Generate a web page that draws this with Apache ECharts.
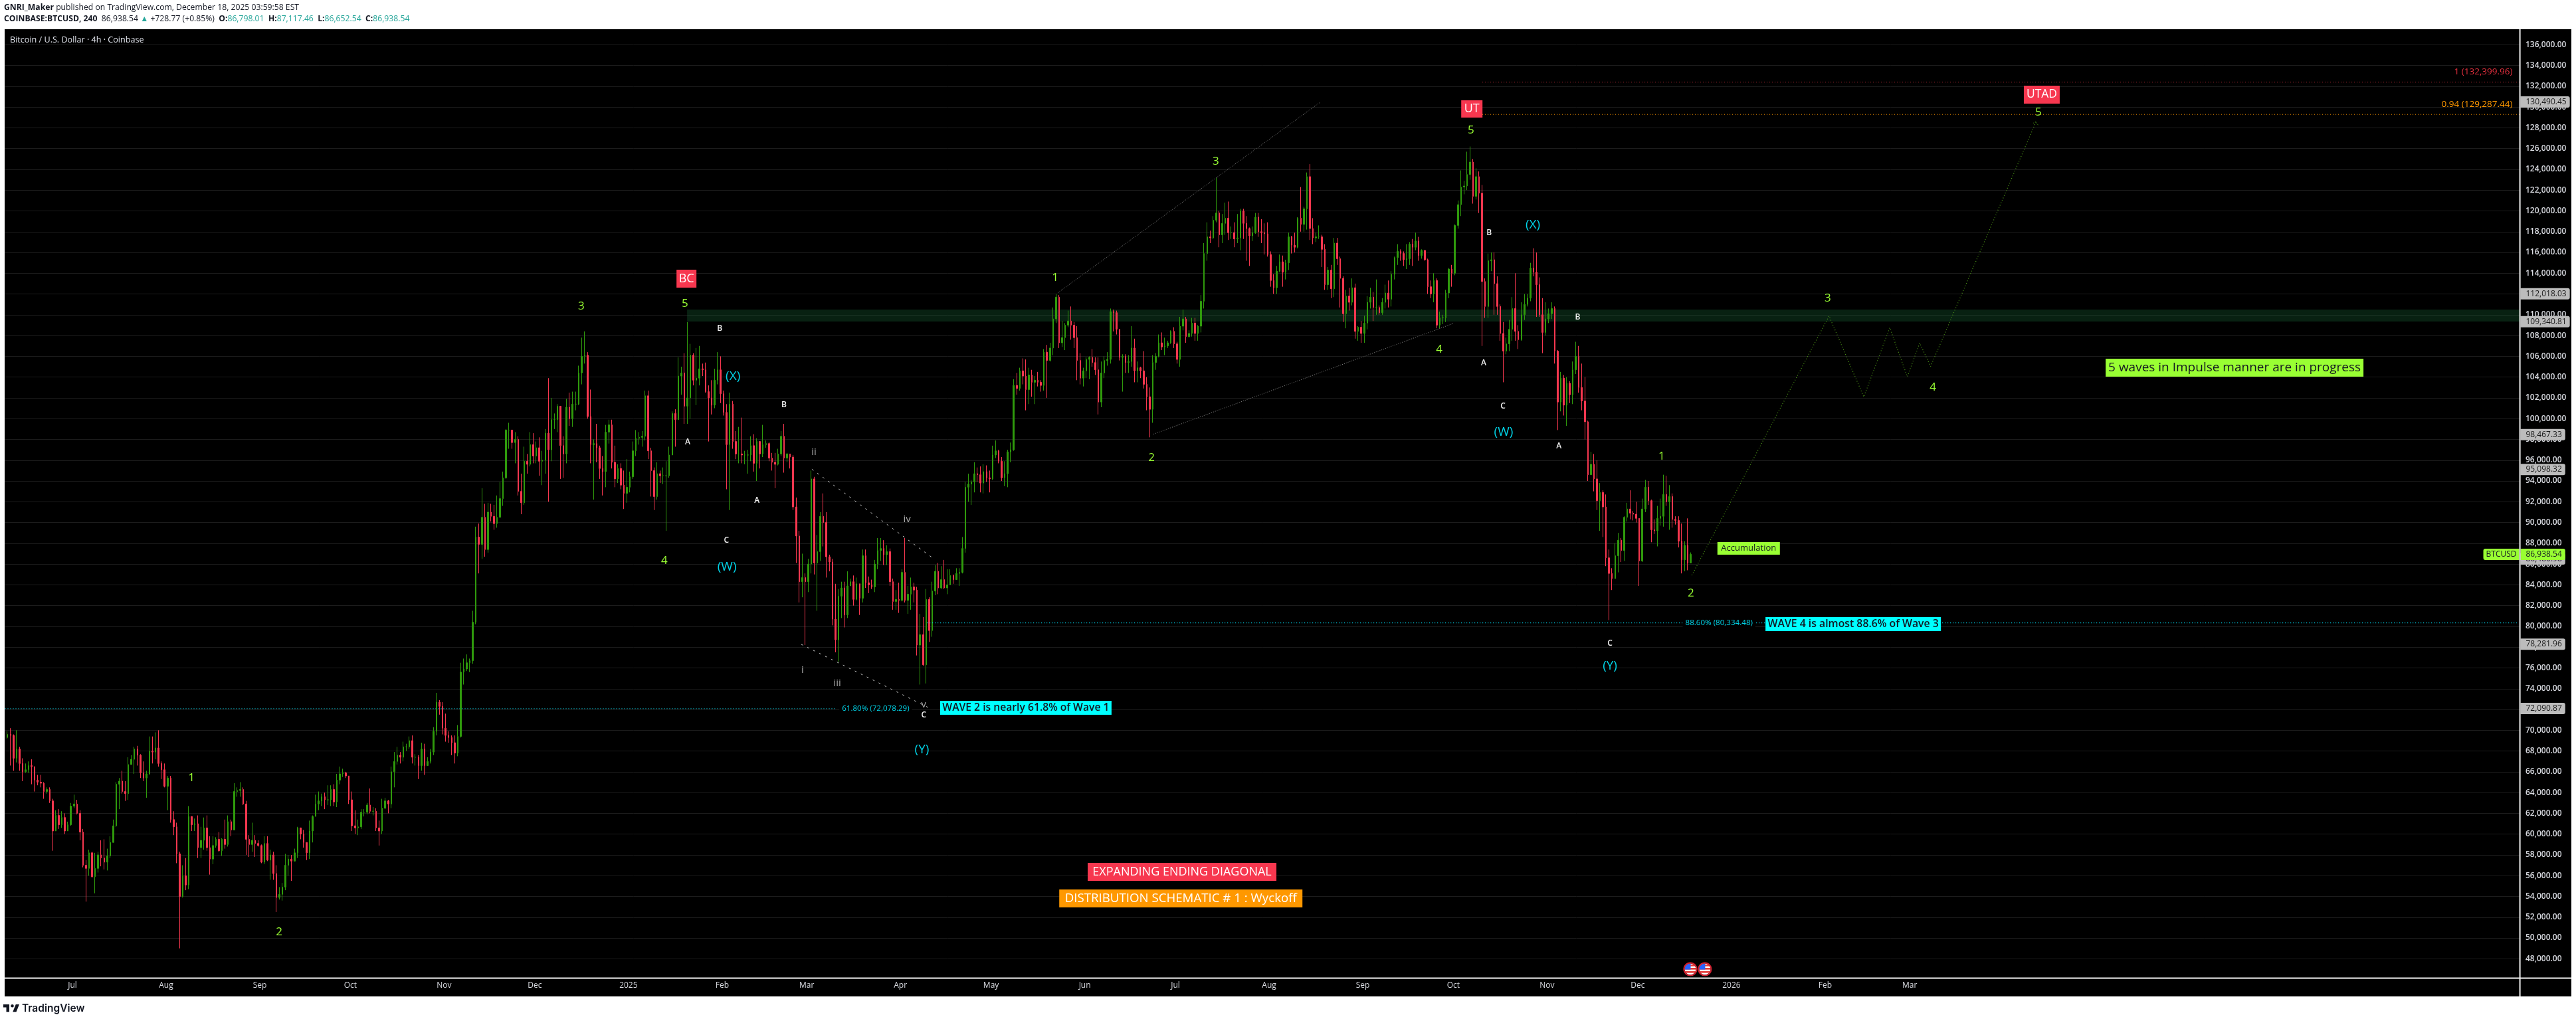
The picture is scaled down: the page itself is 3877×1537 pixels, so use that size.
<!DOCTYPE html>
<html><head><meta charset="utf-8">
<style>html,body{margin:0;padding:0;background:#fff}#c{width:3877px;height:1537px}</style>
<script src="https://cdn.jsdelivr.net/npm/echarts@6/dist/echarts.min.js"></script>
</head><body><div id="c"></div>
<script>
// ---- values, in USD thousands; one bar per day, first bar 2024-06-09, one row per month
const firstOpen = 69.3;
const closes = [
69.6,69.5,67.3,68.2,66.8,66.0,66.2,66.6,66.5,65.2,65.0,64.9,64.1,64.3,63.2,60.3,61.8,60.9,61.6,60.3,60.9,62.7,
62.9,62.0,60.2,57.0,56.7,58.2,55.9,56.7,58.0,57.7,57.3,57.9,59.2,60.8,64.8,65.1,64.1,63.9,66.7,67.2,68.2,67.6,65.9,65.4,65.8,68.0,67.9,68.3,66.8,66.2,64.6,
65.4,61.4,60.7,58.1,54.0,56.0,55.1,61.7,60.9,61.0,58.7,59.4,60.6,58.7,57.6,58.9,59.5,58.4,59.5,59.0,61.2,60.4,64.1,64.2,64.3,62.9,59.5,59.0,59.4,59.1,58.9,
57.3,59.1,57.5,58.0,56.2,53.9,54.2,54.9,57.0,57.6,57.4,58.2,60.6,60.0,59.2,58.2,60.3,61.7,62.9,63.2,63.6,63.3,63.3,64.3,63.1,65.2,65.8,65.9,65.6,63.3,
60.8,60.6,60.7,62.1,62.1,62.8,62.2,62.2,60.6,60.3,62.5,63.2,62.9,66.0,67.0,67.6,67.4,68.4,68.4,69.0,67.4,67.4,66.6,68.2,66.6,67.0,67.9,69.9,72.7,72.3,70.2,
69.5,69.3,68.8,67.8,69.4,75.6,75.9,76.5,76.7,80.4,88.6,87.9,90.5,87.4,91.0,90.6,89.9,90.5,92.3,94.3,98.9,98.9,97.7,98.0,93.0,91.9,95.9,95.6,97.5,96.4,
97.2,95.9,96.0,98.6,97.0,99.9,99.9,101.2,97.4,96.6,101.1,100.0,101.4,101.4,104.4,106.0,106.1,100.2,97.5,97.6,97.2,95.2,94.9,98.7,99.4,95.8,94.2,95.2,93.6,92.8,93.4,
94.4,96.9,98.1,98.2,98.3,102.2,96.9,95.0,92.5,94.7,94.5,94.5,94.5,96.5,100.5,99.9,104.1,104.4,101.2,102.0,106.1,103.7,103.9,104.8,104.7,102.6,102.0,101.3,103.7,104.7,102.4,
100.6,97.5,101.4,97.8,96.6,96.6,96.5,96.5,96.5,97.4,95.7,97.8,96.6,97.5,97.6,96.2,95.8,95.6,96.6,98.3,96.2,96.6,96.3,91.5,88.7,84.3,84.7,84.3,
86.0,94.2,86.1,87.2,90.6,90.0,86.7,86.2,80.7,78.7,82.9,83.7,81.1,83.9,84.3,82.6,84.1,82.7,86.8,84.2,84.0,83.8,86.0,87.3,87.5,86.9,87.2,84.3,82.4,82.6,82.5,
85.2,82.5,83.1,83.8,83.5,78.2,79.2,76.3,82.6,79.6,83.4,85.3,83.7,84.5,83.7,84.0,84.9,84.5,85.1,85.2,87.5,93.4,93.7,93.9,94.7,94.6,93.8,94.9,94.3,94.2,
96.5,96.9,95.9,94.3,94.7,96.8,97.0,103.2,102.9,104.6,104.1,102.8,104.2,103.5,103.7,103.5,103.2,106.4,105.6,106.8,109.6,111.7,107.3,107.8,109.0,109.4,109.0,107.8,105.6,103.9,104.6,
105.7,105.9,105.4,104.7,101.6,104.4,105.6,105.7,110.3,110.2,108.6,105.9,106.0,105.4,105.5,106.8,104.6,104.9,104.6,103.3,102.1,100.9,105.4,106.0,107.3,106.9,107.0,107.3,108.4,107.2,
105.7,108.9,109.6,107.9,108.2,109.2,108.2,108.9,111.3,115.9,117.5,117.4,119.1,119.8,117.7,118.8,119.3,117.9,117.9,117.3,117.4,120.0,118.8,118.3,117.6,117.9,119.4,118.0,117.9,117.8,115.8,
113.3,112.6,114.2,115.1,114.1,115.0,117.5,116.7,116.5,119.3,118.7,120.2,123.3,118.3,117.4,117.5,117.5,116.3,112.9,114.3,112.5,116.9,115.4,113.5,110.1,111.8,111.2,112.6,108.4,108.8,108.2,
109.2,111.2,111.7,110.7,110.7,110.2,111.2,112.1,111.5,113.9,115.5,116.1,115.9,115.3,115.4,116.8,116.5,117.1,115.7,116.2,115.3,112.7,112.0,113.3,109.0,109.7,109.7,112.1,114.4,114.0,
118.6,120.6,122.3,122.4,123.5,124.7,121.4,123.3,121.7,113.2,110.8,115.2,115.3,113.0,110.8,108.2,106.5,107.2,108.6,110.6,108.4,107.6,110.0,111.0,111.6,114.5,114.1,112.9,110.0,108.3,109.6,
110.1,110.6,106.5,101.6,103.9,101.3,103.4,102.3,104.7,106.0,103.0,101.7,99.7,94.6,95.6,94.2,92.1,92.9,91.5,86.6,85.1,84.6,86.8,88.3,87.3,90.5,91.3,90.9,90.8,90.4,
86.3,91.3,93.4,92.1,89.3,89.2,90.4,90.6,92.7,92.0,92.5,90.3,90.2,88.2,86.4,87.8,86.1,86.94];
const highs = [
69.9,70.2,69.6,70.0,68.4,67.3,66.8,67.0,67.2,66.1,65.7,65.7,65.0,64.5,64.5,63.4,62.3,62.4,62.2,62.0,61.2,63.0,
63.8,63.3,62.3,60.5,57.5,58.5,58.3,58.2,58.3,59.4,59.5,58.6,59.8,61.4,65.0,65.4,66.1,65.1,67.4,67.6,68.4,68.5,67.7,67.0,66.1,69.4,69.4,69.8,70.0,67.0,66.8,
65.6,65.6,62.2,61.1,58.3,57.0,57.7,62.7,61.7,61.5,61.8,60.7,61.6,61.8,59.8,59.8,59.7,60.2,59.6,61.4,61.8,61.4,64.9,64.5,65.0,64.5,63.2,59.9,61.1,59.9,59.4,
59.0,59.8,59.8,58.5,58.3,57.0,54.9,55.3,58.1,58.0,58.0,58.6,60.7,60.6,60.4,59.2,61.3,61.8,63.8,64.1,63.9,64.0,64.7,64.7,64.8,65.8,66.5,66.3,66.0,65.6,
64.1,62.3,61.4,62.4,62.4,63.0,64.4,62.6,62.5,61.3,63.4,63.5,63.3,66.5,67.9,68.4,67.9,68.9,68.7,69.4,69.5,67.7,67.6,68.8,68.7,67.4,68.2,70.3,73.6,72.9,72.7,
71.6,69.9,69.5,69.5,70.5,76.5,76.9,77.3,76.9,81.5,89.6,89.9,93.3,91.8,91.9,91.8,91.7,92.6,93.9,94.9,99.0,99.6,98.9,98.7,98.3,94.7,97.3,96.6,98.7,98.6,
97.8,98.2,96.9,99.0,103.9,102.0,100.5,101.4,101.2,98.3,101.9,102.5,102.6,102.6,105.1,107.8,108.4,106.4,102.8,98.0,99.5,97.4,96.4,99.4,99.9,99.9,97.4,95.6,95.7,95.0,96.1,
94.9,97.8,98.9,98.7,98.8,102.7,102.7,97.2,95.3,95.8,95.0,95.3,95.9,97.3,100.7,100.9,105.9,105.0,106.3,109.3,107.2,106.3,106.8,107.0,105.3,105.4,103.2,103.7,104.8,106.4,106.0,
102.7,101.4,102.5,101.7,98.8,99.2,100.1,96.9,97.0,98.3,98.5,98.1,97.3,99.4,97.9,97.7,96.7,96.7,97.1,98.8,99.5,96.7,96.5,96.5,92.4,89.2,87.0,85.1,
86.5,95.0,94.4,88.8,91.0,92.8,91.0,86.9,86.5,84.1,83.6,84.3,84.3,85.3,84.6,84.9,84.7,84.0,87.4,87.4,84.8,84.5,86.4,88.5,88.5,88.3,87.8,87.5,84.6,83.5,84.2,
85.5,88.5,83.9,84.7,84.2,83.8,81.2,80.9,83.6,82.8,84.3,85.9,86.1,85.8,86.4,85.5,85.5,85.0,85.6,85.6,88.6,93.9,94.7,94.1,95.8,95.3,95.4,95.6,95.5,95.0,
97.4,97.9,97.0,96.3,95.9,97.0,97.7,103.8,104.4,104.9,105.8,105.7,104.9,104.7,104.1,104.5,103.7,106.7,107.1,107.3,110.7,112.0,111.9,109.4,109.2,110.4,110.8,109.3,108.9,106.3,104.9,
105.9,106.0,106.7,105.9,105.9,105.5,106.0,106.4,110.6,110.5,110.4,108.6,106.2,106.2,106.1,108.9,107.7,105.5,105.0,106.5,104.0,103.0,106.1,106.3,108.1,108.3,107.8,107.5,108.5,108.8,
107.4,109.8,110.5,109.8,108.5,109.7,109.7,109.0,111.9,116.9,118.9,118.1,119.5,123.2,120.0,119.7,120.8,120.9,118.5,118.9,119.7,120.2,120.2,119.5,118.4,118.5,119.8,119.8,119.2,118.8,118.9,
116.1,113.9,114.7,115.8,115.7,115.3,117.9,117.6,117.9,119.4,122.3,120.4,123.7,124.5,119.3,117.9,118.6,117.7,116.8,114.6,114.8,117.4,117.4,115.6,113.7,112.4,112.6,113.5,113.0,108.9,109.4,
109.9,111.8,112.6,112.2,113.4,110.9,111.6,112.9,113.3,114.2,115.6,116.8,116.3,116.1,116.8,117.0,117.3,117.9,117.5,116.3,116.0,115.4,113.3,114.0,113.5,110.3,110.0,112.4,114.5,114.8,
118.7,121.0,123.9,122.9,125.7,126.2,125.0,124.1,123.8,122.5,113.5,115.9,116.0,116.0,113.7,111.0,109.3,107.8,109.5,111.7,114.0,109.0,111.2,112.0,112.0,115.0,116.4,116.0,113.6,111.6,111.2,
110.6,111.2,110.8,106.6,104.5,104.2,104.0,103.6,105.5,107.4,107.0,105.3,104.0,99.8,96.8,96.6,96.0,93.8,93.1,92.7,87.4,85.6,88.0,89.0,88.5,90.6,91.9,93.1,91.1,92.0,
90.4,92.3,94.1,94.0,92.2,90.3,91.6,92.3,94.6,94.5,93.6,92.8,90.6,90.6,89.9,88.2,90.4,87.12];
const lows = [
69.2,66.6,66.1,66.9,66.1,65.1,65.9,65.9,64.8,64.1,64.7,64.5,63.4,63.9,63.0,58.4,60.6,60.5,60.6,60.0,60.3,60.8,
62.5,61.9,59.4,56.8,53.5,56.0,55.8,54.3,56.3,56.9,56.6,56.5,57.7,59.9,60.7,62.4,63.9,63.2,63.3,66.7,65.8,66.6,65.4,65.1,63.5,65.7,66.8,67.2,66.5,65.3,64.5,
62.3,61.1,59.9,57.2,49.0,53.9,54.6,54.7,60.3,60.3,57.7,57.7,58.5,58.4,56.1,57.1,58.7,58.3,57.9,58.6,58.8,59.8,60.4,63.6,63.6,62.8,58.0,57.8,58.3,57.8,58.8,
57.2,57.1,57.4,55.6,55.6,52.5,53.7,53.6,54.6,56.0,55.5,57.4,57.7,59.5,58.7,57.5,57.6,59.2,61.7,62.3,62.7,62.4,62.8,62.7,62.7,62.6,64.8,65.5,65.4,62.9,
60.3,60.0,59.9,60.5,61.7,61.9,62.0,61.8,60.3,58.9,60.0,62.4,62.0,62.5,64.5,66.7,66.8,67.0,68.0,68.2,66.8,66.6,65.3,66.1,65.7,66.7,66.8,67.6,69.5,71.5,69.6,
68.9,68.8,67.6,66.8,67.5,69.3,74.4,75.7,75.6,76.4,80.2,85.1,86.5,86.7,87.1,90.1,89.3,89.5,91.4,91.6,94.2,97.1,97.1,95.7,92.6,90.8,91.7,94.7,95.4,95.7,
95.7,94.5,93.6,94.7,92.0,95.9,99.0,98.7,94.2,94.3,95.7,99.3,99.2,100.8,101.3,103.3,105.3,100.0,95.7,92.2,95.8,94.2,92.6,93.4,97.6,95.2,93.4,93.8,93.2,91.3,91.9,
92.9,94.2,96.4,97.5,97.3,97.9,96.1,92.5,91.2,92.2,93.8,93.7,89.2,94.3,96.5,97.3,100.2,102.3,99.5,99.5,100.0,103.2,101.3,103.2,104.1,102.5,97.8,100.4,101.0,103.3,101.5,
100.3,93.2,91.2,97.1,96.1,95.7,95.7,95.6,94.7,95.9,94.9,94.0,95.2,96.3,97.2,95.9,95.0,93.3,95.5,96.4,94.8,95.8,95.2,91.2,86.1,82.3,82.8,78.2,
83.3,85.1,85.0,81.5,86.3,87.7,84.7,85.3,80.1,77.5,76.6,80.8,79.9,80.8,83.9,82.0,82.5,81.1,82.3,83.7,83.2,83.6,83.3,85.5,86.3,85.9,85.9,83.9,81.6,81.6,81.3,
82.4,82.3,81.2,81.6,82.3,77.2,74.4,76.2,74.5,78.5,79.0,83.0,83.1,83.6,83.6,83.1,84.1,84.1,84.6,83.9,85.1,87.1,92.0,91.7,92.9,93.9,92.9,92.8,93.9,92.9,
94.1,96.2,95.7,94.0,93.5,93.4,95.8,96.9,102.3,102.7,103.3,100.8,101.4,102.1,101.4,103.1,102.6,102.7,102.0,105.5,106.1,109.2,106.8,106.9,106.6,108.8,107.6,106.8,103.7,103.3,103.1,
103.9,103.8,105.0,104.2,100.4,101.1,103.9,105.1,105.3,108.4,108.1,105.6,102.6,104.4,104.4,105.0,103.5,103.5,103.9,102.9,100.8,98.2,99.6,104.7,105.9,106.6,106.1,106.8,107.2,106.8,
105.3,105.0,108.5,107.3,107.8,107.9,107.5,107.5,108.3,110.6,115.2,116.9,117.3,118.9,116.5,116.9,117.7,117.2,117.3,116.5,116.9,116.2,117.3,115.2,114.7,117.1,117.8,117.5,116.9,115.8,115.6,
112.7,112.0,112.0,114.1,112.7,113.4,114.3,115.9,116.0,116.4,118.0,118.0,118.2,117.2,116.8,117.0,117.3,114.6,112.4,112.4,111.6,111.7,114.8,110.7,109.3,108.7,110.4,110.9,107.7,107.5,107.3,
107.3,108.6,110.6,109.4,110.0,110.0,110.0,110.6,110.7,110.8,113.4,114.8,115.2,114.7,114.4,114.8,114.7,116.2,115.2,115.4,115.2,112.0,111.6,111.2,108.7,108.7,109.1,109.3,111.6,112.7,
113.8,118.3,119.5,121.6,122.0,123.0,120.7,121.1,119.8,107.0,109.7,109.7,114.2,110.0,110.0,107.5,103.5,106.2,106.5,107.5,107.5,106.7,107.5,109.5,110.8,111.3,113.7,109.8,109.8,106.3,108.0,
109.2,109.6,105.3,98.9,100.7,100.3,99.3,101.5,101.4,104.3,102.5,100.8,98.0,94.0,94.6,93.0,91.2,89.2,88.6,85.8,80.6,83.5,84.7,85.2,86.2,86.3,90.1,90.3,90.2,90.0,
83.9,86.2,91.0,91.7,88.1,88.9,87.7,89.7,89.6,91.6,89.3,89.5,89.8,87.6,85.1,85.3,85.4,86.65];

// ---- x tick labels: [year, month index, text]
const timeTicks = [[2024,6,"Jul"],[2024,7,"Aug"],[2024,8,"Sep"],[2024,9,"Oct"],[2024,10,"Nov"],[2024,11,"Dec"],[2025,0,"2025"],[2025,1,"Feb"],[2025,2,"Mar"],[2025,3,"Apr"],[2025,4,"May"],[2025,5,"Jun"],[2025,6,"Jul"],[2025,7,"Aug"],[2025,8,"Sep"],[2025,9,"Oct"],[2025,10,"Nov"],[2025,11,"Dec"],[2026,0,"2026"],[2026,1,"Feb"],[2026,2,"Mar"]];

// ---- annotations: [text, days after 2024-07-01, price]
const waveLabels = [["1",39.4,65413],["2",68.4,50575],["3",168.4,110821],["5",202.7,111077],["4",195.9,86326],["1",325.2,113571],["2",357.1,96239],["3",378.4,124763],["5",462.8,127769],["4",452.3,106664],["1",525.9,96367],["2",535.6,83193],["3",580.9,111588],["4",615.7,103018],["5",650.6,129496]];
const abcLabels = [["B",214.2,108647],["B",235.5,101292],["A",203.6,97710],["A",226.5,92082],["C",216.4,88245],["C",281.7,71425],["B",468.8,117856],["A",467,105321],["C",473.4,101164],["B",498.1,109734],["A",491.9,97327],["C",508.8,78332]];
const romanLabels = [["ii",245.4,96751],["iv",276.2,90292],["i",241.6,75774],["iii",253.1,74495],["v",281.7,72448]];
const wxyLabels = [["(X)",218.6,104042],["(W)",216.6,85687],["(Y)",281.1,68100],["(W)",473.6,98670],["(X)",483.3,118624],["(Y)",508.8,76157]];
const boxNotes = [["BC",203.2,113475],["UT",463.1,129815],["UTAD",651.7,131191],["EXPANDING ENDING DIAGONAL",367.2,56363],["DISTRIBUTION SCHEMATIC # 1 : Wyckoff",366.8,53806],["WAVE 2 is nearly 61.8% of Wave 1",315.5,72159],["WAVE 4 is almost 88.6% of Wave 3",589.3,80219],["Accumulation",554.7,87509],["5 waves in Impulse manner are in progress",715.5,104905]];
const fibNotes = [["61.80% (72,078.29)",265.8,72078.29],["88.60% (80,334.48)",544.9,80334.48]];
const targetNotes = [["1 (132,399.96)",807.6,133397],["0.94 (129,287.44)",807.6,130263]];
const axisPrices = [130490.45,112018.03,109340.81,98467.33,95098.32,86480.98,78281.96,72090.87];
const lastPrice = 86938.54;

// ---- drawn lines: [days, price]
const lineIIIV = [[244.7,95127],[284.7,86582]];
const lineIV = [[241.2,78268],[283.2,72192]];
const lineUpper = [[326.1,112119],[412.9,130455]];
const lineLower = [[357.7,98503],[456.9,109158]];
const projection = [[535.9,84919],[581.3,109881],[592.8,102091],[601.4,108749],[607.2,104042],[611.3,107278],[614.9,105027],[649.8,128575]];
const projectionTip = [[648.9,128453],[649.8,128575],[650.7,128153]];
const fib618 = [[-22.43,72078.29],[252.6,72078.29]];
const fib886 = [[282.8,80334.48],[808.9,80334.48]];
const level1 = [[466.6,132399.96],[809.8,132399.96]];
const level094 = [[466.6,129287.44],[809.8,129287.44]];
const zoneBox = {fromDay:203.4, toDay:809.8, top:110500, bottom:109350};
const eventDays = [[535.4,46995],[540.2,46995]];

// ---- styles
const FONT = "'Open Sans'";
const UP = "#2f9a0c", DOWN = "#f7374f", LIME = "#99ff33", RED = "#f7374f", ORANGE = "#ff9800", CYAN = "#00ffff";
const boxStyle = {
  "BC":{bg:RED,fg:"#fff",w:30,h:27,fs:18},
  "UT":{bg:RED,fg:"#fff",w:32,h:26,fs:18},
  "UTAD":{bg:RED,fg:"#fff",w:54,h:27,fs:17.5},
  "EXPANDING ENDING DIAGONAL":{bg:RED,fg:"#fff",w:284,h:27,fs:18},
  "DISTRIBUTION SCHEMATIC # 1 : Wyckoff":{bg:ORANGE,fg:"#fff",w:366,h:27,fs:18.7},
  "WAVE 2 is nearly 61.8% of Wave 1":{bg:CYAN,fg:"#131722",w:258,h:21,fs:15.7,fw:600},
  "WAVE 4 is almost 88.6% of Wave 3":{bg:CYAN,fg:"#131722",w:264,h:21,fs:15.8,fw:600},
  "Accumulation":{bg:LIME,fg:"#131722",w:94,h:19,fs:13},
  "5 waves in Impulse manner are in progress":{bg:LIME,fg:"#131722",w:388,h:27,fs:19}
};

const DAY = 864e5, T0 = Date.UTC(2024,6,1), FIRST_BAR = -22;
const T = d => T0 + d*DAY;
const X_MIN = T(-22.43), X_MAX = T(809.8);
const fmtPrice = v => Number(v).toLocaleString("en-US",{minimumFractionDigits:2,maximumFractionDigits:2});

const candles = closes.map((c,i)=>{
  const o = i ? closes[i-1] : firstOpen;
  return [T(FIRST_BAR+i+0.5), o*1000, c*1000, Math.min(lows[i],o,c)*1000, Math.max(highs[i],o,c)*1000];
});
const tickTimes = timeTicks.map(r=>Date.UTC(r[0],r[1],1));
const tickText = {}; timeTicks.forEach((r,i)=>tickText[tickTimes[i]]=r[2]);

const HIDDEN = {color:"transparent",opacity:1};
const noteSeries = (name, rows, label, z) => ({
  name, type:"scatter", symbolSize:1, clip:false, silent:true, z:z||6,
  itemStyle:HIDDEN,
  data: rows.map(r=>({name:r[0], value:[T(r[1]),r[2]]})),
  label:Object.assign({show:true,position:"inside",formatter:"{b}",fontFamily:FONT},label)
});
const lineSeries = (name, pts, color, type, width, z) => ({
  name, type:"line", showSymbol:false, silent:true, z:z||4, clip:false,
  data: pts.map(p=>[T(p[0]),p[1]]),
  lineStyle:{color,type,width:width||1}
});
const boxSeries = boxNotes.map(r=>{
  const s = boxStyle[r[0]];
  return noteSeries("box "+r[0],[r],{backgroundColor:s.bg,color:s.fg,width:s.w,height:s.h,lineHeight:s.h,fontSize:s.fs,fontWeight:s.fw||400,align:"center",verticalAlign:"middle"},8);
});
const flagSvg = "image://data:image/svg+xml;utf8,"+encodeURIComponent('<svg xmlns="http://www.w3.org/2000/svg" width="22" height="22"><defs><clipPath id="c"><circle cx="11" cy="11" r="8.5"/></clipPath></defs><g clip-path="url(#c)"><rect width="22" height="22" fill="#fff"/><rect y="4" width="22" height="2.6" fill="#e53935"/><rect y="9" width="22" height="2.6" fill="#e53935"/><rect y="14" width="22" height="2.6" fill="#e53935"/><rect x="2" y="2" width="9.5" height="9.5" fill="#2962ff"/></g><circle cx="11" cy="11" r="9.6" fill="none" stroke="#d32030" stroke-width="2"/></svg>');

const logo = (s,ox,oy,p)=>p.map(q=>[ox+q[0]*s,oy+q[1]*s]);
const option = {
  animation:false,
  backgroundColor:"#ffffff",
  textStyle:{fontFamily:FONT},
  title:[
    {left:6,top:6,padding:0,text:"{b|GNRI_Maker} published on TradingView.com, December 18, 2025 03:59:58 EST",
     textStyle:{fontFamily:FONT,fontSize:12.2,fontWeight:400,color:"#131722",rich:{b:{fontFamily:FONT,fontSize:12.2,fontWeight:700,color:"#131722"}}}},
    {left:6,top:23,padding:0,text:"{b|COINBASE:BTCUSD, 240}  86,938.54 {t|▲} +728.77 (+0.85%)  {b|O:}{t|86,798.01}  {b|H:}{t|87,117.46}  {b|L:}{t|86,652.54}  {b|C:}{t|86,938.54}",
     textStyle:{fontFamily:FONT,fontSize:12.2,fontWeight:400,color:"#131722",rich:{b:{fontFamily:FONT,fontSize:12.2,fontWeight:700,color:"#131722"},t:{fontFamily:FONT,fontSize:12.2,color:"#26a69a"}}}},
    {left:15,top:54,padding:0,text:"Bitcoin / U.S. Dollar · 4h · Coinbase",textStyle:{fontFamily:FONT,fontSize:12.6,fontWeight:400,color:"#e0e3eb"}}
  ],
  grid:{left:7,right:85,top:67.3,bottom:93.7,containLabel:false},
  xAxis:{type:"value",min:X_MIN,max:X_MAX,offset:28.7,scale:true,
    axisLine:{show:false},axisTick:{show:false},splitLine:{show:false},
    axisLabel:{customValues:tickTimes,hideOverlap:false,margin:6,fontFamily:FONT,fontSize:12,color:"#d8dae0",formatter:v=>tickText[v]||""}},
  yAxis:{type:"value",position:"right",min:48000,max:136000,interval:2000,scale:false,
    axisLine:{show:false},axisTick:{show:false},
    splitLine:{show:true,lineStyle:{color:"#1c1c1c",width:1}},
    axisLabel:{margin:9,align:"left",fontFamily:FONT,fontSize:12,fontWeight:600,color:"#d8dae0",formatter:fmtPrice}},
  graphic:[
    {type:"rect",z:-10,silent:true,shape:{x:7,y:44,width:3863,height:1456},style:{fill:"#000"}},
    {type:"rect",z:20,silent:true,shape:{x:3791.6,y:44,width:2,height:1456},style:{fill:"#f0f0f0"}},
    {type:"rect",z:20,silent:true,shape:{x:7,y:1471.5,width:3863,height:2},style:{fill:"#f0f0f0"}},
    {type:"polygon",z:20,silent:true,shape:{points:logo(0.75,3.5,1507.5,[[2,6],[14,6],[14,21],[8,21],[8,12],[2,12]])},style:{fill:"#131722"}},
    {type:"polygon",z:20,silent:true,shape:{points:logo(0.75,3.5,1507.5,[[28,21],[21,21],[27,6],[34,6]])},style:{fill:"#131722"}},
    {type:"circle",z:20,silent:true,shape:{cx:3.5+20*0.75,cy:1507.5+9*0.75,r:2.25},style:{fill:"#131722"}},
    {type:"text",z:20,silent:true,x:33,y:1510,style:{text:"TradingView",fill:"#131722",font:"600 15.5px Inter"}}
  ],
  series:[
    {name:"BTCUSD",type:"candlestick",barWidth:2,z:3,silent:true,
     encode:{x:0,y:[1,2,3,4]},data:candles,
     itemStyle:{color:UP,color0:DOWN,borderColor:UP,borderColor0:DOWN,borderWidth:1},
     markArea:{silent:true,z:1,itemStyle:{color:"rgba(32,140,76,0.24)"},
       data:[[{xAxis:T(zoneBox.fromDay),yAxis:zoneBox.top},{xAxis:T(zoneBox.toDay),yAxis:zoneBox.bottom}]]}},
    lineSeries("fib 61.8",fib618,"#08808c",[2,2],1),
    lineSeries("fib 88.6",fib886,"#00e5ff",[1,3],1.2),
    lineSeries("level 1",level1,"#d8323f",[1,3],1),
    lineSeries("level 0.94",level094,ORANGE,[1,3],1.2),
    lineSeries("ii-iv",lineIIIV,"#c9c9c9",[3,7],1),
    lineSeries("i-v",lineIV,"#c9c9c9",[3,7],1),
    lineSeries("diagonal upper",lineUpper,"#808080",[1,2],1),
    lineSeries("diagonal lower",lineLower,"#8a8a8a",[1,2],1),
    lineSeries("projection",projection,"#4f9a18",[1,3],1.2),
    lineSeries("projection tip",projectionTip,"#4f9a18",[1,2],1),
    noteSeries("waves",waveLabels,{color:LIME,fontSize:17}),
    noteSeries("abc",abcLabels,{color:"#f2f2f2",fontSize:12,fontWeight:600}),
    noteSeries("roman",romanLabels,{color:"#a6a6a6",fontSize:15}),
    noteSeries("wxy",wxyLabels,{color:"#00d4e8",fontSize:19}),
    noteSeries("fib text",fibNotes,{color:"#00d4e8",fontSize:11.6,backgroundColor:"#000",padding:[1,4]}),
    noteSeries("target 1",[targetNotes[0]],{color:"#e8303f",fontSize:13.5,position:"left",distance:0}),
    noteSeries("target 0.94",[targetNotes[1]],{color:ORANGE,fontSize:13.5,position:"left",distance:0}),
    ...boxSeries,
    {name:"events",type:"scatter",clip:false,silent:true,z:7,symbol:flagSvg,symbolSize:22,itemStyle:{opacity:1},data:eventDays.map(p=>[T(p[0]),p[1]])},
    {name:"axis prices",type:"scatter",clip:false,silent:true,symbolSize:1,z:9,itemStyle:HIDDEN,
     data:axisPrices.map(p=>[X_MAX,p]),
     label:{show:true,position:"right",distance:1,formatter:p=>fmtPrice(p.value[1]),backgroundColor:"#bcbcbc",color:"#1a1a1a",borderRadius:[0,3,3,0],
       padding:[2,5,2,8],fontFamily:FONT,fontSize:12,lineHeight:13}},
    {name:"last price",type:"scatter",clip:false,silent:true,symbolSize:1,z:10,itemStyle:HIDDEN,
     data:[[X_MAX,lastPrice]],
     label:{show:true,position:"right",distance:1,formatter:p=>fmtPrice(p.value[1]),backgroundColor:LIME,color:"#131722",borderRadius:[0,3,3,0],
       padding:[2,5,2,8],fontFamily:FONT,fontSize:12,lineHeight:13}},
    {name:"last tag",type:"scatter",clip:false,silent:true,symbolSize:1,z:10,itemStyle:HIDDEN,
     data:[[X_MAX,lastPrice]],
     label:{show:true,position:"left",distance:0,formatter:"BTCUSD",backgroundColor:LIME,color:"#131722",borderRadius:[3,0,0,3],
       padding:[2,4,2,4],fontFamily:FONT,fontSize:12,lineHeight:13}}
  ]
};
const chart = echarts.init(document.getElementById("c"),null,{width:3877,height:1537});
chart.setOption(option);
</script></body></html>
